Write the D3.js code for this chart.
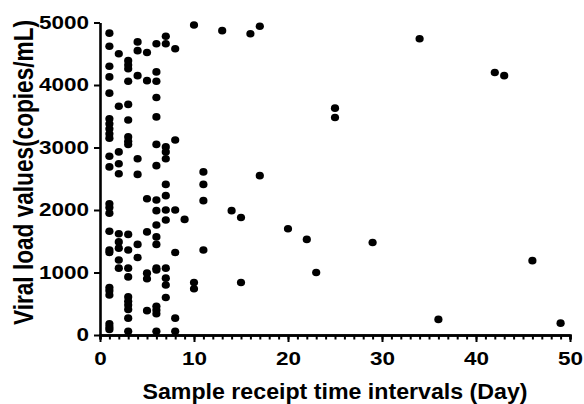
<!DOCTYPE html>
<html>
<head>
<meta charset="utf-8">
<script src="https://cdn.jsdelivr.net/npm/d3@7"></script>
<style>
  body { margin: 0; background: #fff; }
  .axis text { font-family: "Liberation Sans", Arial, sans-serif; font-weight: bold; font-size: 18px; fill: #000; }
  .axis path { stroke: #000; stroke-width: 2.6; }
  .axis line { stroke: #000; stroke-width: 2; }
  .axis-title { font-family: "Liberation Sans", Arial, sans-serif; font-weight: bold; fill: #000; }
</style>
</head>
<body>
<div id="chart"></div>
<script>
  // days between sampling and receipt, one entry per sample
  var days = [
    1, 1, 1, 1, 1, 1, 1, 1, 1, 1, 1, 1, 1, 1, 1, 1, 1, 1, 1, 1, 1, 1, 1, 1,
    2, 2, 2, 2, 2, 2, 2, 2, 2, 2,
    3, 3, 3, 3, 3, 3, 3, 3, 3, 3, 3, 3, 3, 3, 3, 3, 3, 3, 3,
    4, 4, 4, 4, 4, 4, 4,
    5, 5, 5, 5, 5, 5, 5,
    6, 6, 6, 6, 6, 6, 6, 6, 6, 6, 6, 6, 6, 6, 6, 6, 6, 6,
    7, 7, 7, 7, 7, 7, 7, 7, 7, 7, 7, 7, 7,
    8, 8, 8, 8, 8, 8,
    9,
    10, 10, 10,
    11, 11, 11, 11,
    13, 14, 15, 15, 16, 17, 17, 20, 22, 23, 25, 25, 29,
    34, 36, 42, 43, 46, 49
  ];

  // viral load (copies/mL), same order as days
  var loads = [
    4830, 4620, 4300, 4130, 3870, 3460, 3380, 3300, 3220, 3150, 2860, 2690, 2100, 2040, 1950, 1660, 1360, 1320, 760, 710, 640, 180, 130, 90,
    4500, 3660, 2930, 2740, 2580, 1620, 1490, 1390, 1200, 1070,
    4390, 4320, 4260, 4060, 3690, 3440, 3170, 3100, 3050, 1610, 1360, 1070, 930, 610, 540, 480, 410, 270, 60,
    4690, 4550, 4150, 2820, 2570, 1450, 1240,
    4520, 4070, 2180, 1650, 990, 900, 390,
    4660, 4210, 4060, 3800, 3490, 3050, 2710, 2160, 1990, 1760, 1570, 1450, 1070, 1040, 460, 400, 340, 60,
    4780, 4660, 3010, 2930, 2820, 2410, 2230, 2000, 1840, 1070, 910, 800, 600,
    4580, 3120, 2000, 1320, 270, 60,
    1850,
    4960, 840, 740,
    2610, 2410, 2150, 1360,
    4870, 1990, 1880, 840, 4820, 4940, 2550, 1700, 1530, 1000, 3630, 3480, 1480,
    4740, 250, 4200, 4150, 1190, 190
  ];

  var xTicks = [0, 10, 20, 30, 40, 50];
  var xMinorTicks = d3.range(0, 51, 1);
  var yTicks = [0, 1000, 2000, 3000, 4000, 5000];

  var svgWidth = 584;
  var svgHeight = 404;
  var margin = { top: 22.5, right: 14, bottom: 69, left: 100 };
  var width = svgWidth - margin.left - margin.right;
  var height = 335 - margin.top;

  // the source figure's lettering is stretched sideways
  var stretch = 1.25;

  var svg = d3.select("#chart")
    .append("svg")
    .attr("width", svgWidth)
    .attr("height", svgHeight);

  var chartGroup = svg.append("g")
    .attr("transform", `translate(${margin.left}, ${margin.top})`);

  var xScale = d3.scaleLinear().domain([0, 50]).range([0, width]);
  var yScale = d3.scaleLinear().domain([0, 5000]).range([height, 0]);

  // minor ticks on x, one per day
  chartGroup.append("g")
    .attr("class", "axis")
    .attr("transform", `translate(0, ${height})`)
    .call(d3.axisBottom(xScale).tickValues(xMinorTicks).tickSize(4.5).tickFormat(""))
    .call(g => g.selectAll("line").attr("stroke-width", 1.5));

  chartGroup.append("g")
    .attr("class", "axis")
    .attr("transform", `translate(0, ${height})`)
    .call(d3.axisBottom(xScale).tickValues(xTicks).tickSize(7).tickPadding(10).tickSizeOuter(0).tickFormat(d3.format("d")))
    .call(g => g.selectAll("text").attr("transform", `scale(${stretch},1)`));

  chartGroup.append("g")
    .attr("class", "axis")
    .call(d3.axisLeft(yScale).tickValues(yTicks).tickSize(6).tickPadding(4).tickSizeOuter(0).tickFormat(d3.format("d")))
    .call(g => g.selectAll("text")
      .attr("x", -11 / stretch)
      .attr("transform", `scale(${stretch},1)`));

  chartGroup.selectAll("ellipse.pt")
    .data(days)
    .enter()
    .append("ellipse")
    .attr("class", "pt")
    .attr("cx", d => xScale(d))
    .attr("cy", (d, i) => yScale(loads[i]))
    .attr("rx", 4.1)
    .attr("ry", 3.8)
    .attr("fill", "#000");

  svg.append("text")
    .attr("class", "axis-title")
    .attr("text-anchor", "middle")
    .attr("font-size", 22)
    .attr("x", margin.left + width / 2)
    .attr("y", 399)
    .attr("textLength", 385)
    .attr("lengthAdjust", "spacingAndGlyphs")
    .text("Sample receipt time intervals (Day)");

  svg.append("text")
    .attr("class", "axis-title")
    .attr("text-anchor", "middle")
    .attr("font-size", 23)
    .attr("textLength", 305)
    .attr("lengthAdjust", "spacingAndGlyphs")
    .attr("transform", `translate(33, 172.5) scale(1.2,1) rotate(-90)`)
    .text("Viral load values(copies/mL)");
</script>
</body>
</html>
